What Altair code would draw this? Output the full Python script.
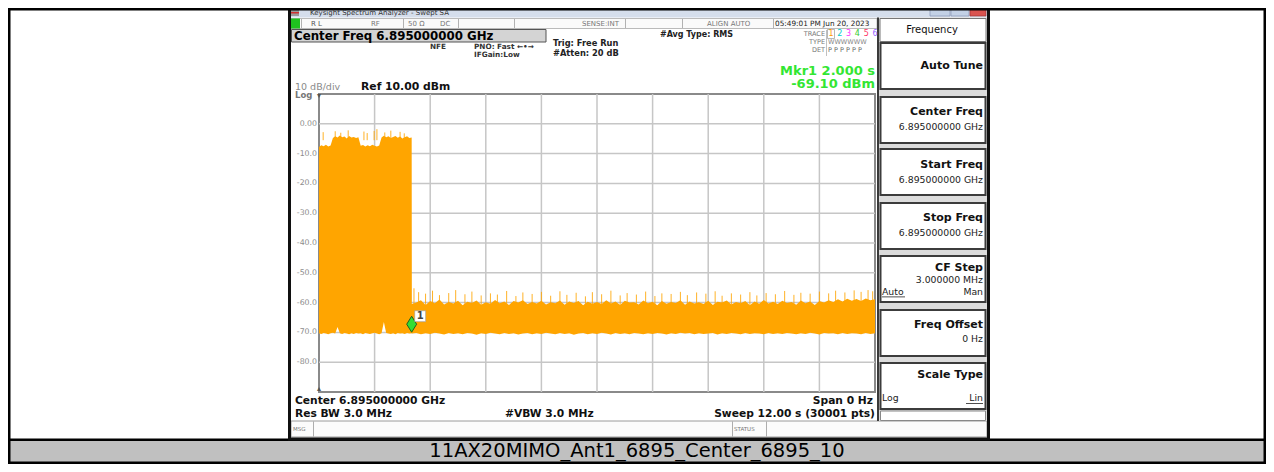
import altair as alt
import pandas as pd
import numpy as np

# ---------------- data ----------------
y_ticks = [0, -10, -20, -30, -40, -50, -60, -70, -80]
y_tick_labels = ["0.00", "-10.0", "-20.0", "-30.0", "-40.0", "-50.0", "-60.0", "-70.0", "-80.0"]
x_grid = [1.2, 2.4, 3.6, 4.8, 6.0, 7.2, 8.4, 9.6, 10.8]

# burst (0 .. 2.0 s, every 0.05 s): upper envelope, dBm
burst_hi = [-7.8, -7.2, -7.5, -7.0, -7.6, -7.3, -4.8, -4.2, -4.6, -3.9,
            -4.5, -4.3, -4.9, -4.1, -4.6, -4.4, -4.8, -4.5, -7.4, -7.1,
            -7.6, -7.2, -7.5, -7.0, -7.4, -7.6, -7.3, -4.6, -4.0, -4.5,
            -4.2, -4.8, -4.4, -4.1, -4.7, -4.3, -4.9, -4.5, -4.2, -4.8,
            -4.6]
burst_lo = [-70.3, -70.5, -70.2, -70.4, -70.6, -70.3, -70.1, -70.4, -68.2, -70.3,
            -70.5, -70.2, -70.4, -70.6, -70.3, -70.5, -70.2, -70.4, -70.3, -70.6,
            -70.2, -70.4, -70.5, -70.3, -70.1, -70.4, -70.6, -70.3, -66.5, -70.2,
            -70.4, -70.5, -70.3, -70.6, -70.2, -70.4, -70.3, -70.5, -70.2, -70.4,
            -70.3]
# noise floor (2.0 .. 12.0 s, every 0.1 s)
noise_hi = [-60.5, -60.0, -59.2, -60.8, -59.5, -60.2, -59.0, -60.6, -59.8, -60.3,
            -59.4, -60.9, -59.7, -60.1, -59.3, -60.7, -59.9, -60.4, -59.1, -60.2,
            -59.6, -60.8, -59.5, -60.0, -59.2, -60.5, -59.8, -60.3, -59.4, -60.6,
            -59.9, -60.2, -59.3, -60.7, -59.6, -60.1, -59.5, -60.9, -59.7, -60.4,
            -59.8, -60.5, -59.2, -60.3, -59.6, -60.8, -59.4, -60.0, -59.9, -60.6,
            -59.3, -60.2, -59.7, -60.9, -59.5, -60.4, -59.8, -60.1, -59.2, -60.7,
            -59.6, -60.3, -59.9, -60.5, -59.4, -60.8, -59.7, -60.0, -59.3, -60.6,
            -59.8, -60.2, -59.5, -60.9, -59.6, -60.4, -59.1, -60.3, -59.7, -60.5,
            -59.4, -60.1, -59.8, -60.7, -59.3, -60.2, -59.6, -60.8, -59.5, -60.0,
            -59.2, -59.8, -58.9, -59.6, -58.7, -59.4, -58.8, -59.5, -58.6, -59.2,
            -58.9]
noise_lo = [-70.4, -70.2, -70.6, -70.3, -70.5, -70.1, -70.4, -70.7, -70.2, -70.5,
            -70.3, -70.6, -70.2, -70.4, -70.8, -70.3, -70.5, -70.1, -70.4, -70.6,
            -70.2, -70.5, -70.3, -70.7, -70.4, -70.2, -70.6, -70.3, -70.5, -70.1,
            -70.4, -70.6, -70.2, -70.5, -70.3, -70.8, -70.4, -70.2, -70.6, -70.3,
            -70.5, -70.1, -70.4, -70.7, -70.2, -70.5, -70.3, -70.6, -70.2, -70.4,
            -70.6, -70.3, -70.5, -70.2, -70.4, -70.7, -70.3, -70.5, -70.1, -70.4,
            -70.2, -70.6, -70.3, -70.5, -70.4, -70.2, -70.7, -70.3, -70.5, -70.2,
            -70.4, -70.6, -70.2, -70.5, -70.3, -70.4, -70.6, -70.2, -70.5, -70.3,
            -70.5, -70.2, -70.4, -70.6, -70.3, -70.5, -70.1, -70.4, -70.7, -70.2,
            -70.4, -70.3, -70.6, -70.2, -70.5, -70.3, -70.4, -70.6, -70.2, -70.5,
            -70.3]
burst_spike_t = [0.09, 0.35, 0.47, 0.63, 0.97, 1.04, 1.19, 1.25, 1.42, 1.55, 1.75, 1.84]
burst_spike_hi = [-2.8, -2.5, -3.0, -2.2, -2.6, -3.1, -2.4, -1.8, -2.9, -2.3, -2.7, -3.2]
noise_spike_t = [2.05, 2.15, 2.3, 2.45, 2.6, 2.8, 2.95, 3.15, 3.3, 3.5, 3.7, 3.85,
                 4.05, 4.25, 4.4, 4.6, 4.8, 5.0, 5.2, 5.35, 5.55, 5.75, 5.9,
                 6.1, 6.3, 6.5, 6.65, 6.85, 7.05, 7.25, 7.4, 7.6, 7.8, 7.95,
                 8.15, 8.35, 8.55, 8.7, 8.9, 9.1, 9.3, 9.45, 9.65, 9.85,
                 10.05, 10.25, 10.4, 10.6, 10.8, 11.0, 11.15, 11.35, 11.55, 11.7, 11.85, 11.95]
noise_spike_hi = [-55.2, -56.5, -57.0, -56.0, -57.5, -56.8, -55.8, -57.2, -56.3, -57.6,
                  -56.9, -57.3, -56.1, -57.8, -56.6, -57.1, -56.4, -57.7, -56.2, -57.4,
                  -56.7, -57.9, -56.5, -57.2, -56.0, -57.6, -56.8, -57.3, -56.3, -57.8,
                  -56.9, -57.1, -56.4, -57.5, -56.6, -57.0, -56.2, -57.7, -56.9, -57.3,
                  -56.5, -57.6, -56.8, -57.2, -56.1, -57.4, -56.7, -57.0, -56.3, -56.9,
                  -56.0, -56.6, -55.9, -56.4, -55.8, -56.2]
marker_t = [2.0]
marker_db = [-69.10]

# ---------------- layout helpers (page pixels) ----------------
OX, OY = 319, 94          # page position of the plot area's top-left corner
FONT = "DejaVu Sans"
ORANGE = "#ffa500"
GRID = "#c6c6c6"

rects = []
def box(x1, y1, x2, y2, fill="transparent", stroke="transparent", sw=0):
    rects.append({"x": x1 - OX, "x2": x2 - OX, "y": y1 - OY, "y2": y2 - OY,
                  "fill": fill, "stroke": stroke, "sw": sw})

texts = {}
def label(x, y, s, size, color="#000000", align="left", bold=False, font=FONT):
    texts.setdefault((align, bold, font), []).append(
        {"x": x - OX, "y": y - OY, "t": s, "s": size, "c": color})

# caption row
box(10, 440, 1264, 462.5, "#c0c0c0")
box(9, 438.5, 1265, 441, "#000000")
label(637, 451, "11AX20MIMO_Ant1_6895_Center_6895_10", 19.5, "#000000", "center", False, "DejaVu Sans")

# screenshot chrome
box(291, 9, 987, 17.5, "#d5deec")
box(291, 10, 299, 16, "#9a9a9a")
box(291, 12, 299, 13.5, "#d03030")
label(310, 13, "Keysight Spectrum Analyzer - Swept SA", 7, "#333333")
box(930, 9.5, 950, 16, "#c3d1e6", "#8796b5", 0.7)
box(951, 9.5, 969, 16, "#c3d1e6", "#8796b5", 0.7)
box(970, 9.5, 986, 16, "#d9534f", "#a03030", 0.7)

box(291, 18.5, 877, 28.5, "#fafafa", "#a8a8a8", 0.8)
box(291, 18.5, 300, 28.5, "#1fc21f")
for sx in [301, 403, 458, 514, 625, 682, 773]:
    box(sx, 19, sx + 0.8, 28, "#a0a0a0")
label(311, 23.5, "R L", 7, "#555555")
label(371, 23.5, "RF", 7, "#777777")
label(408, 23.5, "50 Ω", 7, "#777777")
label(440, 23.5, "DC", 7, "#777777")
label(582, 23.5, "SENSE:INT", 7, "#777777")
label(707, 23.5, "ALIGN AUTO", 7, "#777777")
label(775, 23.5, "05:49:01 PM Jun 20, 2023", 7.3, "#222222")

box(291.5, 29.5, 546, 42, "#d4d4d4", "#555555", 1)
label(294, 36, "Center Freq 6.895000000 GHz", 11.8, "#000000", bold=True)
label(430, 47, "NFE", 7.3, "#333333", bold=True)
label(474, 47, "PNO: Fast ←•→", 7.3, "#333333", bold=True)
label(474, 55, "IFGain:Low", 7.3, "#333333", bold=True)
label(553, 43.5, "Trig: Free Run", 8.3, "#222222", bold=True)
label(553, 53.5, "#Atten: 20 dB", 8.3, "#222222", bold=True)
label(660, 34.5, "#Avg Type: RMS", 8, "#222222", bold=True)

label(825, 34, "TRACE", 6.5, "#777777", "right")
label(825, 42, "TYPE", 6.5, "#777777", "right")
label(825, 50, "DET", 6.5, "#777777", "right")
box(826, 30, 826.8, 56, "#b0b0b0")
box(827.5, 29.5, 834.5, 38.5, "transparent", "#999999", 0.7)
for i, col in enumerate(["#ff9900", "#00cccc", "#ff33ff", "#33cc33", "#ff3366", "#9966ff"]):
    label(831 + i * 8.8, 34, str(i + 1), 8, col, "center")
label(828, 42, "WWWWWW", 6.5, "#888888")
label(828, 50, "P P P P P P", 6.5, "#666666")

label(875, 70.5, "Mkr1 2.000 s", 13, "#33e633", "right", True)
label(875, 84, "-69.10 dBm", 13, "#33e633", "right", True)
label(295, 86.5, "10 dB/div", 9.5, "#8a8a8a")
label(361, 86.5, "Ref 10.00 dBm", 10.8, "#111111", bold=True)
label(295, 95, "Log", 8.5, "#777777", bold=True)
label(319, 96, "▾", 8, "#555555", "center")
label(319, 389, "▴", 8, "#555555", "center")

label(295, 400.5, "Center 6.895000000 GHz", 10.7, "#111111", bold=True)
label(295, 413.5, "Res BW 3.0 MHz", 10.7, "#111111", bold=True)
label(505, 413.5, "#VBW 3.0 MHz", 10.7, "#111111", bold=True)
label(873, 400.5, "Span 0 Hz", 10.7, "#111111", "right", True)
label(875, 413.5, "Sweep  12.00 s (30001 pts)", 10.7, "#111111", "right", True)

box(291, 421, 987, 437, "#fbfbfb", "#9a9a9a", 1)
for sx in [313, 732, 766]:
    box(sx, 421.5, sx + 0.8, 436.5, "#9a9a9a")
label(293, 429, "MSG", 5.5, "#777777")
label(734, 429, "STATUS", 5.5, "#777777")

# soft key panel
box(877, 17.5, 987, 421, "#dcdcdc")
box(877, 17.5, 879, 421, "#3a3a3a")
box(880, 18.5, 986, 41.5, "#ffffff", "#777777", 1)
label(932, 30, "Frequency", 10, "#111111", "center")
buttons = [(43, 89), (97, 143), (149, 195), (203, 249), (256, 302), (310, 356), (363, 409)]
for y1, y2 in buttons:
    box(880.5, y1, 985.5, y2, "#ffffff", "#3c3c3c", 2)
box(880.5, 411, 985.5, 420.5, "#ffffff", "#888888", 1)
R = 983
label(R, 66, "Auto Tune", 11, "#111111", "right", True)
label(R, 112, "Center Freq", 11, "#111111", "right", True)
label(R, 127, "6.895000000 GHz", 9.3, "#222222", "right")
label(R, 165, "Start Freq", 11, "#111111", "right", True)
label(R, 180, "6.895000000 GHz", 9.3, "#222222", "right")
label(R, 218, "Stop Freq", 11, "#111111", "right", True)
label(R, 233, "6.895000000 GHz", 9.3, "#222222", "right")
label(R, 268, "CF Step", 11, "#111111", "right", True)
label(R, 280, "3.000000 MHz", 9.3, "#222222", "right")
label(882, 291.5, "Auto", 9.3, "#222222")
box(882, 296.5, 905, 297.3, "#222222")
label(R, 291.5, "Man", 9.3, "#222222", "right")
label(R, 325, "Freq Offset", 11, "#111111", "right", True)
label(R, 339, "0 Hz", 9.3, "#222222", "right")
label(R, 375, "Scale Type", 11, "#111111", "right", True)
label(882, 398, "Log", 9.3, "#222222")
label(R, 398, "Lin", 9.3, "#222222", "right")
box(966, 403, R, 403.8, "#222222")

# borders on top
box(289.5, 8.5, 988.5, 439, stroke="#101010", sw=3)
box(9.25, 9.25, 1264.75, 462.75, stroke="#000000", sw=2.5)

# ---------------- chart layers ----------------
rect_layer = alt.Chart(pd.DataFrame(rects)).mark_rect().encode(
    x=alt.X("x:Q", scale=None, axis=None), x2="x2:Q",
    y=alt.Y("y:Q", scale=None, axis=None), y2="y2:Q",
    color=alt.Color("fill:N", scale=None),
    stroke=alt.Stroke("stroke:N", scale=None),
    strokeWidth=alt.StrokeWidth("sw:Q", scale=None),
)

text_layers = []
for (align, bold, font), rows in texts.items():
    text_layers.append(
        alt.Chart(pd.DataFrame(rows)).mark_text(
            align=align, baseline="middle", font=font,
            fontWeight="bold" if bold else "normal",
        ).encode(
            x=alt.X("x:Q", scale=None, axis=None),
            y=alt.Y("y:Q", scale=None, axis=None),
            text="t:N",
            size=alt.Size("s:Q", scale=None),
            color=alt.Color("c:N", scale=None),
        )
    )

xs = alt.Scale(domain=[0, 12], nice=False, zero=False)
ys = alt.Scale(domain=[-90, 10], nice=False, zero=False)

ygrid_df = pd.DataFrame({"v": y_ticks, "lab": y_tick_labels})
xgrid_df = pd.DataFrame({"v": x_grid})
hgrid = alt.Chart(ygrid_df).mark_rule(color=GRID, strokeWidth=1.5).encode(
    y=alt.Y("v:Q", scale=ys, axis=None))
vgrid = alt.Chart(xgrid_df).mark_rule(color=GRID, strokeWidth=1.5).encode(
    x=alt.X("v:Q", scale=xs, axis=None))
ylabels = alt.Chart(ygrid_df).mark_text(
    align="right", baseline="middle", dx=-2, font=FONT, fontSize=7.8, color="#8c8c8c"
).encode(x=alt.value(0), y=alt.Y("v:Q", scale=ys, axis=None), text="lab:N")

t_burst = [round(v, 3) for v in np.linspace(0, 2.0, 41)]
t_noise = [round(v, 3) for v in np.linspace(2.0, 12.0, 101)]
t_noise[0] = 2.004
trace = pd.DataFrame({"t": t_burst + t_noise,
                      "hi": burst_hi + noise_hi,
                      "lo": burst_lo + noise_lo})
spikes = pd.DataFrame({
    "t": burst_spike_t + noise_spike_t,
    "hi": burst_spike_hi + noise_spike_hi,
    "base": [-5.5] * len(burst_spike_t) + [-61.0] * len(noise_spike_t),
})
marker = pd.DataFrame({"t": marker_t, "db": marker_db})

area = alt.Chart(trace).mark_area(color=ORANGE, interpolate="linear").encode(
    x=alt.X("t:Q", scale=xs, axis=None),
    y=alt.Y("hi:Q", scale=ys, axis=None),
    y2="lo:Q",
)
spike_layer = alt.Chart(spikes).mark_rule(color=ORANGE, strokeWidth=1, opacity=0.85).encode(
    x=alt.X("t:Q", scale=xs, axis=None),
    y=alt.Y("hi:Q", scale=ys, axis=None), y2="base:Q",
)
DIAMOND = "M0,-1L0.62,0L0,1L-0.62,0Z"
marker_pt = alt.Chart(marker).mark_point(
    shape=DIAMOND, size=256, filled=True, fill="#33dd33", stroke="#1e5e1e",
    strokeWidth=1, opacity=1, yOffset=-5.5,
).encode(x=alt.X("t:Q", scale=xs, axis=None), y=alt.Y("db:Q", scale=ys, axis=None))
marker_box = alt.Chart(marker).mark_point(
    shape="square", size=120, filled=True, fill="#ffffff", stroke="#999999",
    strokeWidth=0.6, opacity=1, xOffset=8.5, yOffset=-13.5,
).encode(x=alt.X("t:Q", scale=xs, axis=None), y=alt.Y("db:Q", scale=ys, axis=None))
marker_txt = alt.Chart(marker).mark_text(
    text="1", dx=8.5, dy=-13.5, fontSize=10, fontWeight="bold", color="#444444",
    font=FONT, baseline="middle", align="center",
).encode(x=alt.X("t:Q", scale=xs, axis=None), y=alt.Y("db:Q", scale=ys, axis=None))

chart = alt.layer(
    rect_layer, *text_layers, hgrid, vgrid, ylabels,
    area, spike_layer, marker_pt, marker_box, marker_txt
).properties(
    width=556, height=298,
    padding={"left": 311, "top": 86, "right": 391, "bottom": 72},
    autosize=alt.AutoSizeParams(type="none"),
).configure(background="white").configure_view(
    stroke="#8a8a8a", strokeWidth=2, fill="white"
)

chart.save("out.html", embed_options={"renderer": "svg", "actions": False})
